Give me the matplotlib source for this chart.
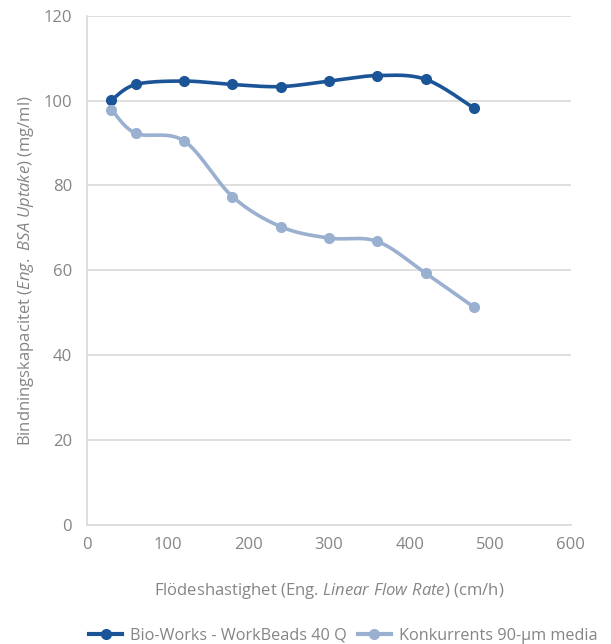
import numpy as np
import matplotlib
matplotlib.use("Agg")
import matplotlib.pyplot as plt
from matplotlib.lines import Line2D

# Data
flow_rate = [30, 60, 120, 180, 240, 300, 360, 420, 480]
workbeads = [100.1, 103.8, 104.6, 103.8, 103.3, 104.6, 105.9, 105.0, 98.2]
competitor = [97.9, 92.3, 90.5, 77.4, 70.3, 67.6, 66.8, 59.3, 51.3]

series_names = ["Bio-Works - WorkBeads 40 Q", "Konkurrents 90-µm media"]
series_colors = ["#1B5598", "#9AB0D0"]
text_grey = "#858585"
grid_grey = "#D9D9D9"

plt.rcParams["font.family"] = ["Open Sans", "DejaVu Sans"]
plt.rcParams["mathtext.fontset"] = "custom"
plt.rcParams["mathtext.rm"] = "Open Sans"
plt.rcParams["mathtext.it"] = "Open Sans:italic"


def smooth(xs, ys, steps=30):
    # Excel-style smoothed line: cubic Bezier through the points
    p = np.column_stack([xs, ys]).astype(float)
    ext = np.vstack([p[0], p, p[-1]])
    out = []
    t = np.linspace(0, 1, steps)[:, None]
    for i in range(len(p) - 1):
        p0, p1 = ext[i + 1], ext[i + 2]
        c1 = p0 + (ext[i + 2] - ext[i]) / 6
        c2 = p1 - (ext[i + 3] - ext[i + 1]) / 6
        seg = ((1 - t) ** 3) * p0 + 3 * ((1 - t) ** 2) * t * c1 \
            + 3 * (1 - t) * t ** 2 * c2 + t ** 3 * p1
        out.append(seg if i == 0 else seg[1:])
    out = np.vstack(out)
    return out[:, 0], out[:, 1]


fig = plt.figure(figsize=(6.11, 6.44), dpi=100)
ax = fig.add_axes([0.1429, 0.1848, 0.7913, 0.7908])

for ys, col in zip([workbeads, competitor], series_colors):
    sx, sy = smooth(flow_rate, ys)
    ax.plot(sx, sy, color=col, linewidth=2.6, solid_capstyle="round", zorder=3)
    ax.plot(flow_rate, ys, "o", color=col, markersize=7, zorder=4)

ax.set_xlim(0, 600)
ax.set_ylim(0, 120)
ax.set_xticks(range(0, 601, 100))
ax.set_yticks(range(0, 121, 20))
ax.yaxis.grid(True, color=grid_grey, linewidth=1.2)
ax.set_axisbelow(True)
for side in ["top", "right"]:
    ax.spines[side].set_visible(False)
for side in ["left", "bottom"]:
    ax.spines[side].set_color(grid_grey)
    ax.spines[side].set_linewidth(1.2)
ax.tick_params(length=0, labelsize=12, colors=text_grey)
ax.tick_params(axis="y", pad=11)
ax.tick_params(axis="x", pad=9)

ax.set_xlabel(r"Flödeshastighet (Eng. $\mathit{Linear\ Flow\ Rate}$) (cm/h)",
              fontsize=12, color=text_grey, labelpad=20)
ax.set_ylabel(r"Bindningskapacitet ($\mathit{Eng.\ BSA\ Uptake}$) (mg/ml)",
              fontsize=12, color=text_grey, labelpad=5)

handles = [Line2D([0], [0], color=c, linewidth=3, marker="o", markersize=7)
           for c in series_colors]
fig.legend(handles, series_names, loc="center", bbox_to_anchor=(0.562, 0.013),
           ncol=2, frameon=False, fontsize=11.7, labelcolor=text_grey,
           handlelength=2.0, handletextpad=0.5, columnspacing=0.7)

fig.savefig("out.png", dpi=100)
